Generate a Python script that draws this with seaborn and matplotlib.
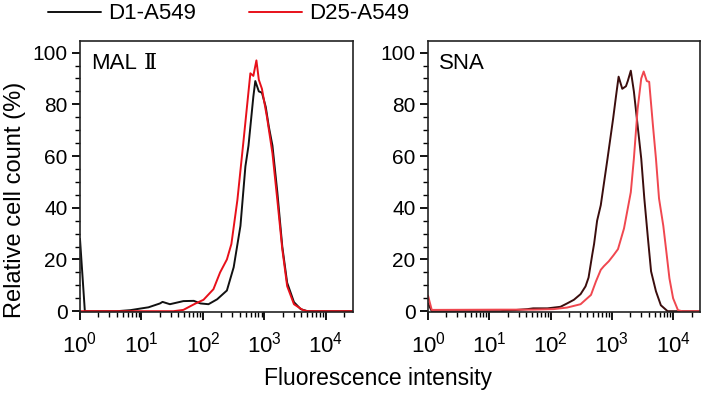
import numpy as np
import pandas as pd
import matplotlib
matplotlib.use('Agg')
import matplotlib.pyplot as plt
from matplotlib.ticker import LogLocator, FuncFormatter, MultipleLocator, NullFormatter
import seaborn as sns

# histogram traces: fluorescence intensity, relative cell count (%)
mal_d1_x = [1.0, 1.2, 4, 6.6, 9.5, 13, 20, 22, 29, 48, 71, 91, 123, 170, 245, 316,
            407, 490, 550, 660, 710, 810, 910, 1050, 1175, 1350, 1620, 1950, 2340,
            3020, 3890, 5000, 27500]
mal_d1_y = [28, 0, 0, 0.4, 1.0, 1.5, 3.0, 3.6, 2.7, 3.9, 4.0, 3.0, 2.7, 4.6, 8, 17,
            33, 56, 64, 83, 89, 85, 84.5, 79, 71.5, 64, 46, 25, 11,
            3.5, 0.8, 0, 0]
mal_d25_x = [1.0, 33, 48, 62, 76, 102, 148, 190, 245, 290, 363, 457, 590, 660, 740,
             810, 910, 1100, 1350, 1620, 1950, 2340, 3020, 4170, 5000, 27500]
mal_d25_y = [0, 0, 0.5, 1.9, 3.0, 4.4, 8.5, 15, 20, 26, 43, 66, 92, 91, 97,
             89.5, 86, 75, 61, 43, 24, 9.7, 2.7, 0.5, 0, 0]

sna_d1_x = [1.0, 1.15, 15, 42, 52, 89, 145, 186, 240, 309, 372, 417, 480, 513, 575,
            660, 850, 1050, 1175, 1290, 1480, 1700, 1820, 2040, 2290, 2630, 3020,
            3390, 3890, 4370, 5250, 6310, 8130, 27500]
sna_d1_y = [3, 0, 0, 0.8, 1.1, 1.1, 1.7, 3.0, 4.4, 6.6, 9.6, 13, 22, 26, 35,
            41, 59, 74.5, 83.5, 90.7, 86, 87, 89, 93, 85, 72, 59,
            43.6, 28, 15.4, 7.7, 2.3, 0, 0]
sna_d25_x = [1.0, 1.15, 15, 52, 112, 186, 309, 457, 550, 660, 741, 891, 1070, 1260,
             1580, 2040, 2290, 2630, 3020, 3310, 3720, 4070, 4680, 5250, 5890, 6920,
             7760, 8710, 10000, 12000, 14000, 27500]
sna_d25_y = [6, 0.5, 0.6, 0.6, 0.8, 1.4, 2.7, 6.3, 11.5, 16, 17.4, 19.3, 21.7, 24,
             32, 46, 59, 78, 90, 92.7, 89, 88.7, 72, 59, 43.6, 33,
             23, 12.7, 5, 0.4, 0, 0]

samples = ['D1-A549', 'D25-A549']
panels = [('MAL', 'Ⅱ'), ('SNA', '')]
y_ticks = [0, 20, 40, 60, 80, 100]

def make_df(xs, ys):
    parts = []
    for s, x, y in zip(samples, xs, ys):
        parts.append(pd.DataFrame({'intensity': x, 'count': y, 'sample': s}))
    return pd.concat(parts, ignore_index=True)

df_mal = make_df([mal_d1_x, mal_d25_x], [mal_d1_y, mal_d25_y])
df_sna = make_df([sna_d1_x, sna_d25_x], [sna_d1_y, sna_d25_y])

sns.set_style('ticks')
fam = ['Liberation Sans', 'DejaVu Sans']
plt.rcParams['font.family'] = fam
plt.rcParams['mathtext.fontset'] = 'custom'
plt.rcParams['mathtext.rm'] = 'Liberation Sans'
plt.rcParams['mathtext.it'] = 'Liberation Sans'
plt.rcParams['text.color'] = 'black'
plt.rcParams['xtick.color'] = 'black'
plt.rcParams['ytick.color'] = 'black'

fig = plt.figure(figsize=(7.01, 3.96), dpi=100)
ax1 = fig.add_axes([0.1141, 0.2109, 0.3894, 0.6856])
ax2 = fig.add_axes([0.6106, 0.2109, 0.3880, 0.6856])

sns.lineplot(data=df_mal, x='intensity', y='count', hue='sample', ax=ax1,
             palette=['#111111', '#e8101a'], linewidth=1.4, sort=False,
             estimator=None)
sns.lineplot(data=df_sna, x='intensity', y='count', hue='sample', ax=ax2,
             palette=['#3b0d0d', '#f0474f'], linewidth=1.4, sort=False,
             estimator=None, legend=False)

handles, labels = ax1.get_legend_handles_labels()
ax1.get_legend().remove()
fig.legend(handles, labels, loc='center left', bbox_to_anchor=(0.068, 0.965),
           ncol=2, frameon=False, fontsize=16, handlelength=2.4,
           handletextpad=0.3, columnspacing=2.4, borderaxespad=0, borderpad=0)

def log_fmt(v, pos):
    return r'$10^{%d}$' % int(round(np.log10(v)))

for ax, (name, numeral) in zip([ax1, ax2], panels):
    ax.set_xscale('log')
    ax.set_xlim(1, 27500)
    ax.set_ylim(-0.5, 104.5)
    ax.set_yticks(y_ticks)
    ax.yaxis.set_minor_locator(MultipleLocator(5))
    ax.xaxis.set_major_locator(LogLocator(base=10, numticks=10))
    ax.xaxis.set_minor_locator(LogLocator(base=10, subs=np.arange(2, 10), numticks=20))
    ax.xaxis.set_major_formatter(FuncFormatter(log_fmt))
    ax.xaxis.set_minor_formatter(NullFormatter())
    ax.tick_params(axis='both', which='major', labelsize=15, length=6, width=1.3,
                   direction='out', pad=3)
    ax.tick_params(axis='x', which='major', pad=8, labelsize=16)
    ax.tick_params(axis='both', which='minor', length=3.5, width=1.0, direction='out')
    ax.set_xlabel('')
    ax.set_ylabel('')
    for sp in ax.spines.values():
        sp.set_visible(True)
        sp.set_linewidth(1.2)
        sp.set_color('#222222')
    t = ax.text(0.04, 0.955, name, transform=ax.transAxes, ha='left', va='top',
                fontsize=16)
    if numeral:
        ax.annotate(numeral, xy=(1, 0), xycoords=t, xytext=(5, 0),
                    textcoords='offset points', ha='left', va='bottom',
                    fontsize=16, family=['DejaVu Serif', 'DejaVu Sans'])

fig.text(0.022, 0.495, 'Relative cell count (%)', rotation=90, ha='center',
         va='center', fontsize=17)
fig.text(0.539, 0.045, 'Fluorescence intensity', ha='center', va='center',
         fontsize=16.5)

fig.savefig('out.png', dpi=100)
